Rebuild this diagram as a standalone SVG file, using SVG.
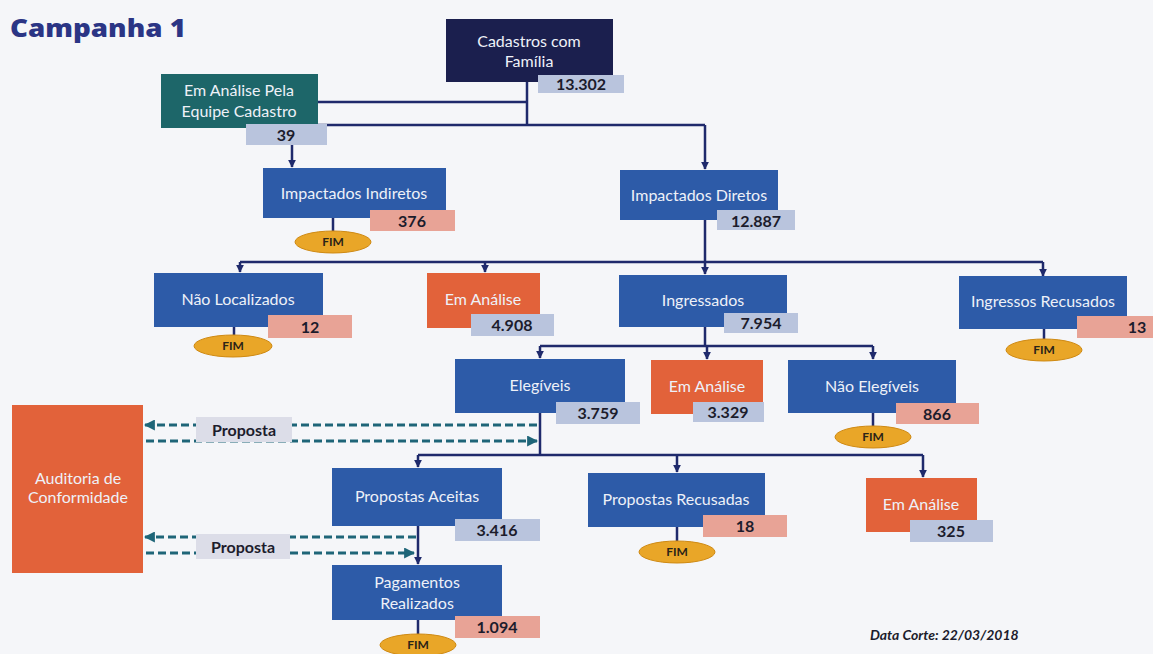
<svg xmlns="http://www.w3.org/2000/svg" width="1153" height="654" viewBox="0 0 1153 654">
<style>
.t{font-family:Lato,"Liberation Sans",sans-serif;font-size:16px;fill:#eef1f8;text-anchor:middle}
.n{font-family:Lato,"Liberation Sans",sans-serif;font-size:16px;font-weight:bold;fill:#1c1c2c;text-anchor:middle}
.f{font-family:Lato,"Liberation Sans",sans-serif;font-size:12px;font-weight:bold;fill:#2a2418;text-anchor:middle}
.blue{fill:#2d5ba8}
.orange{fill:#e2623a}
.nb{fill:#b9c4dd}
.ns{fill:#e8a396}
.fim{fill:#e9a628;stroke:#cf8a14;stroke-width:1}
.c{fill:none;stroke:#1f2a6c;stroke-width:2.5}
.d{fill:none;stroke:#1e6578;stroke-width:3;stroke-dasharray:8 4}
.pl{fill:#dcdde8}
</style>
<defs>
<marker id="a" viewBox="0 0 10 10" refX="9" refY="5" markerWidth="3.2" markerHeight="3.2" orient="auto">
<path d="M0,0 L10,5 L0,10 z" fill="#1f2a6c"/>
</marker>
<marker id="ad" viewBox="0 0 10 10" refX="9" refY="5" markerUnits="userSpaceOnUse" markerWidth="11" markerHeight="11" orient="auto">
<path d="M0,0 L10,5 L0,10 z" fill="#1e6578"/>
</marker>
</defs>
<rect width="1153" height="654" fill="#f5f6f9"/>
<text x="10" y="37" font-family="'Open Sans','Liberation Sans',sans-serif" font-size="24" font-weight="800" fill="#2b3585" textLength="176" lengthAdjust="spacingAndGlyphs">Campanha 1</text>

<g id="connectors">
<path class="c" d="M318,102 H527"/>
<path class="c" d="M527,82 V125"/>
<path class="c" d="M292,125 H705"/>
<path class="c" d="M292,125 V167" marker-end="url(#a)"/>
<path class="c" d="M705,125 V169" marker-end="url(#a)"/>
<path class="c" d="M333,218 V232"/>
<path class="c" d="M705,220 V262"/>
<path class="c" d="M240,262 H1043"/>
<path class="c" d="M240,262 V272" marker-end="url(#a)"/>
<path class="c" d="M485,262 V272" marker-end="url(#a)"/>
<path class="c" d="M705,262 V274" marker-end="url(#a)"/>
<path class="c" d="M1043,262 V276" marker-end="url(#a)"/>
<path class="c" d="M234,327 V335"/>
<path class="c" d="M1044,329 V340"/>
<path class="c" d="M705,327 V346"/>
<path class="c" d="M540,346 H873"/>
<path class="c" d="M540,346 V358" marker-end="url(#a)"/>
<path class="c" d="M707,346 V359" marker-end="url(#a)"/>
<path class="c" d="M873,346 V359" marker-end="url(#a)"/>
<path class="c" d="M873,413 V427"/>
<path class="c" d="M540,413 V455"/>
<path class="c" d="M418,455 H923"/>
<path class="c" d="M418,455 V467" marker-end="url(#a)"/>
<path class="c" d="M677,455 V472" marker-end="url(#a)"/>
<path class="c" d="M923,455 V477" marker-end="url(#a)"/>
<path class="c" d="M677,527 V542"/>
<path class="c" d="M418,526 V564" marker-end="url(#a)"/>
<path class="c" d="M418,620 V634"/>
<path class="d" d="M537,425 H145" marker-end="url(#ad)"/>
<path class="d" d="M146,441 H537" marker-end="url(#ad)"/>
<path class="d" d="M416,537 H145" marker-end="url(#ad)"/>
<path class="d" d="M146,553 H414" marker-end="url(#ad)"/>
<rect class="pl" x="196" y="417" width="96" height="25"/>
<text x="244" y="436" class="n" font-size="17">Proposta</text>
<rect class="pl" x="196" y="534" width="94" height="25"/>
<text x="243" y="553" class="n" font-size="17">Proposta</text>
</g>

<g id="cadastros">
<rect x="446" y="19" width="167" height="63" fill="#1b1f4e"/>
<text x="529" y="47" class="t">Cadastros com</text>
<text x="529" y="67" class="t">Família</text>
<rect class="nb" x="538" y="75" width="86" height="18"/>
<text x="581" y="90" class="n">13.302</text>
</g>

<g id="equipe-cadastro">
<rect x="161" y="74" width="157" height="54" fill="#1d6669"/>
<text x="239" y="96" class="t" font-size="15.5">Em Análise Pela</text>
<text x="239" y="117" class="t" font-size="15.5">Equipe Cadastro</text>
<rect class="nb" x="246" y="124" width="81" height="21"/>
<text x="286" y="141" class="n">39</text>
</g>

<g id="impactados-indiretos">
<rect class="blue" x="263" y="168" width="183" height="50"/>
<text x="354" y="199" class="t">Impactados Indiretos</text>
<rect class="ns" x="370" y="210" width="85" height="21"/>
<text x="412" y="227" class="n">376</text>
<ellipse class="fim" cx="333" cy="242" rx="38" ry="11"/>
<text x="333" y="246" class="f">FIM</text>
</g>

<g id="impactados-diretos">
<rect class="blue" x="620" y="170" width="158" height="50"/>
<text x="699" y="201" class="t">Impactados Diretos</text>
<rect class="nb" x="717" y="210" width="78" height="20"/>
<text x="756" y="227" class="n">12.887</text>
</g>

<g id="nao-localizados">
<rect class="blue" x="154" y="273" width="169" height="54"/>
<text x="238" y="305" class="t">Não Localizados</text>
<rect class="ns" x="268" y="315" width="84" height="23"/>
<text x="310" y="333" class="n">12</text>
<ellipse class="fim" cx="233" cy="346" rx="39" ry="11"/>
<text x="233" y="350" class="f">FIM</text>
</g>

<g id="em-analise-1">
<rect class="orange" x="427" y="273" width="113" height="55"/>
<text x="483" y="305" class="t">Em Análise</text>
<rect class="nb" x="471" y="314" width="83" height="22"/>
<text x="512" y="331" class="n">4.908</text>
</g>

<g id="ingressados">
<rect class="blue" x="619" y="275" width="168" height="52"/>
<text x="703" y="306" class="t">Ingressados</text>
<rect class="nb" x="724" y="313" width="74" height="20"/>
<text x="761" y="329" class="n">7.954</text>
</g>

<g id="ingressos-recusados">
<rect class="blue" x="959" y="276" width="168" height="53"/>
<text x="1043" y="307" class="t">Ingressos Recusados</text>
<rect class="ns" x="1077" y="316" width="76" height="22"/>
<text x="1137" y="333" class="n">13</text>
<ellipse class="fim" cx="1044" cy="350" rx="38" ry="11"/>
<text x="1044" y="354" class="f">FIM</text>
</g>

<g id="elegiveis">
<rect class="blue" x="455" y="359" width="170" height="54"/>
<text x="540" y="391" class="t">Elegíveis</text>
<rect class="nb" x="556" y="402" width="84" height="22"/>
<text x="598" y="419" class="n">3.759</text>
</g>

<g id="em-analise-2">
<rect class="orange" x="651" y="360" width="112" height="54"/>
<text x="707" y="392" class="t">Em Análise</text>
<rect class="nb" x="693" y="402" width="71" height="20"/>
<text x="728" y="418" class="n">3.329</text>
</g>

<g id="nao-elegiveis">
<rect class="blue" x="788" y="360" width="168" height="53"/>
<text x="872" y="392" class="t">Não Elegíveis</text>
<rect class="ns" x="896" y="403" width="83" height="21"/>
<text x="937" y="420" class="n">866</text>
<ellipse class="fim" cx="873" cy="437" rx="38" ry="11"/>
<text x="873" y="441" class="f">FIM</text>
</g>

<g id="auditoria">
<rect x="12" y="405" width="131" height="168" fill="#e2623a"/>
<text x="78" y="484" class="t" font-size="13.5" fill="#f6c9b4">Auditoria de</text>
<text x="78" y="503" class="t" font-size="13.5" fill="#f6c9b4">Conformidade</text>
</g>

<g id="propostas-aceitas">
<rect class="blue" x="332" y="468" width="170" height="58"/>
<text x="417" y="502" class="t">Propostas Aceitas</text>
<rect class="nb" x="455" y="519" width="85" height="22"/>
<text x="497" y="536" class="n">3.416</text>
</g>

<g id="propostas-recusadas">
<rect class="blue" x="588" y="473" width="177" height="54"/>
<text x="676" y="505" class="t">Propostas Recusadas</text>
<rect class="ns" x="703" y="515" width="84" height="22"/>
<text x="745" y="532" class="n">18</text>
<ellipse class="fim" cx="677" cy="552" rx="38" ry="11"/>
<text x="677" y="556" class="f">FIM</text>
</g>

<g id="em-analise-3">
<rect class="orange" x="866" y="478" width="111" height="54"/>
<text x="921" y="510" class="t">Em Análise</text>
<rect class="nb" x="910" y="520" width="83" height="22"/>
<text x="951" y="537" class="n">325</text>
</g>

<g id="pagamentos">
<rect class="blue" x="332" y="565" width="170" height="55"/>
<text x="417" y="588" class="t">Pagamentos</text>
<text x="417" y="609" class="t">Realizados</text>
<rect class="ns" x="455" y="616" width="85" height="22"/>
<text x="497" y="633" class="n">1.094</text>
<ellipse class="fim" cx="418" cy="645" rx="38" ry="11"/>
<text x="418" y="649" class="f">FIM</text>
</g>

<text x="870" y="640" font-family="Lato,'Liberation Sans',sans-serif" font-size="14" font-weight="bold" font-style="italic" fill="#1c1c2c">Data Corte: 22/03/2018</text>
</svg>
